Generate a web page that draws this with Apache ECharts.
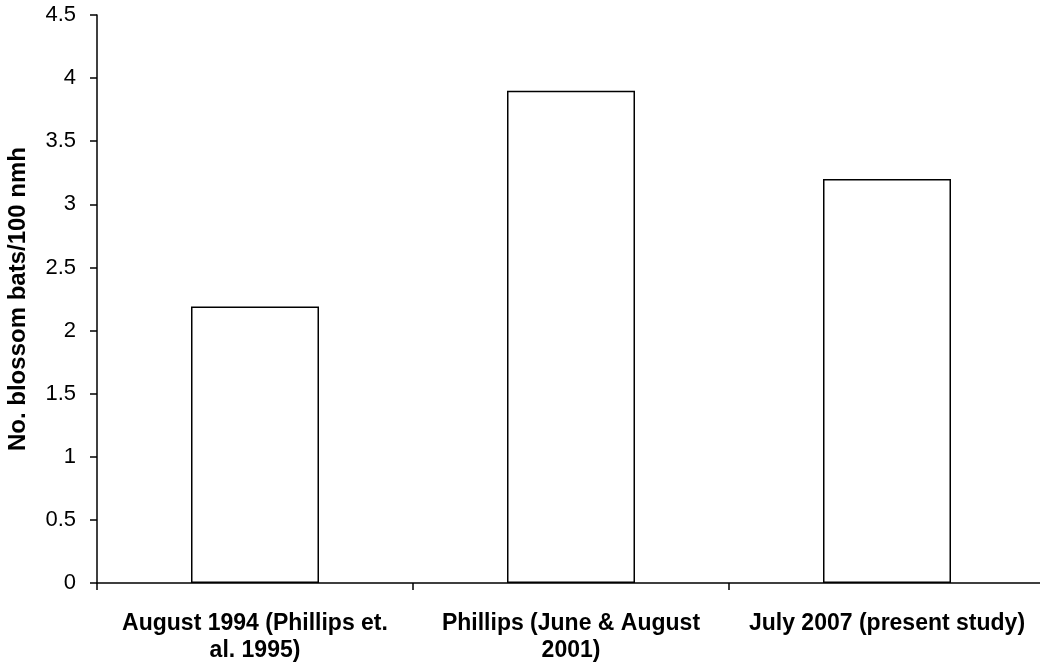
<!DOCTYPE html>
<html>
<head>
<meta charset="utf-8">
<script src="https://cdn.jsdelivr.net/npm/echarts@6/dist/echarts.min.js"></script>
<style>html,body{margin:0;padding:0;background:#fff}#c{width:1040px;height:668px}</style>
</head>
<body>
<div id="c"></div>
<script>
const categories = ["August 1994 (Phillips et.\nal. 1995)", "Phillips (June & August\n2001)", "July 2007 (present study)"];
const values = [2.19, 3.9, 3.2];
const yAxisName = "No. blossom bats/100 nmh";

const chart = echarts.init(document.getElementById('c'), null, {renderer: 'canvas'});
chart.setOption({
  animation: false,
  backgroundColor: '#ffffff',
  grid: {left: 97, top: 15, width: 948, bottom: 85, containLabel: false, outerBoundsMode: 'none'},
  xAxis: {
    type: 'category',
    data: categories,
    axisLine: {lineStyle: {color: '#000', width: 1.5}},
    axisTick: {show: true, alignWithLabel: false, length: 7, lineStyle: {color: '#000', width: 1.5}},
    axisLabel: {color: '#000', fontFamily: 'Liberation Sans, Arial, sans-serif', fontWeight: 'bold', fontSize: 23, lineHeight: 27, margin: 27, interval: 0}
  },
  yAxis: {
    type: 'value',
    min: 0, max: 4.5, interval: 0.5,
    name: yAxisName,
    nameLocation: 'middle',
    nameGap: 67,
    nameRotate: 90,
    nameTextStyle: {color: '#000', fontFamily: 'Liberation Sans, Arial, sans-serif', fontWeight: 'bold', fontSize: 24},
    axisLine: {show: true, lineStyle: {color: '#000', width: 1.5}},
    axisTick: {show: true, length: 7, lineStyle: {color: '#000', width: 1.5}},
    axisLabel: {color: '#000', fontFamily: 'Liberation Sans, Arial, sans-serif', fontSize: 22, margin: 21},
    splitLine: {show: false}
  },
  series: [{
    type: 'bar',
    data: values,
    barWidth: 128,
    itemStyle: {color: '#ffffff', borderColor: '#000', borderWidth: 1.5}
  }]
});
</script>
</body>
</html>
